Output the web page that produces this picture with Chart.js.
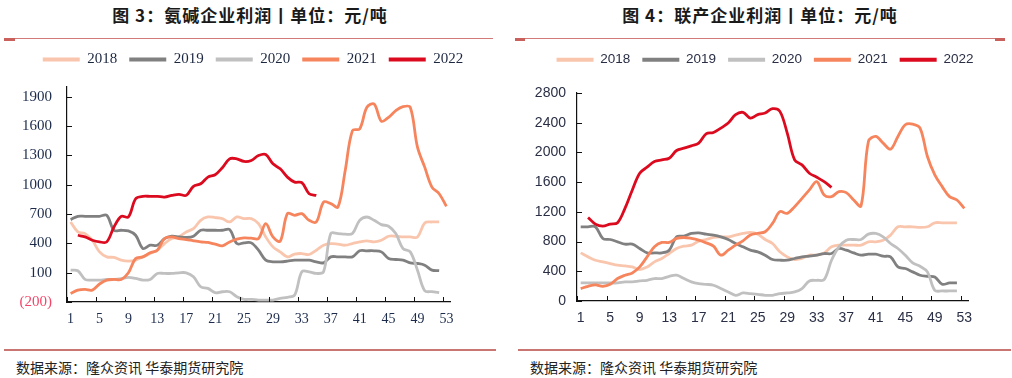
<!DOCTYPE html>
<html><head><meta charset="utf-8">
<script src="https://cdn.jsdelivr.net/npm/chart.js@4/dist/chart.umd.min.js"></script>
<style>
body{margin:0;width:1012px;height:378px;background:#fff;position:relative;overflow:hidden;}
.title{position:absolute;top:3px;height:24px;line-height:24px;font-family:"Noto Sans CJK SC";font-weight:bold;font-size:17px;color:#1a1a1a;text-align:center;white-space:nowrap;letter-spacing:1px;}
.rule{position:absolute;height:1px;background:#d27a77;}
.cap{position:absolute;height:3px;background:#c9605c;}
.brule{position:absolute;height:2px;background:#c97672;}
.src{position:absolute;top:357px;font-family:"Noto Sans CJK SC";font-size:14px;color:#222;white-space:nowrap;}
canvas{position:absolute;}
</style></head>
<body>
<div class="title" style="left:0;width:500px;">图 3：氨碱企业利润丨单位：元/吨</div>
<div class="title" style="left:510px;width:500px;">图 4：联产企业利润丨单位：元/吨</div>
<div class="rule" style="left:4px;width:489px;top:38px;"></div>
<div class="cap" style="left:4px;width:11px;top:38px;"></div>
<div class="rule" style="left:515px;width:490px;top:38px;"></div>
<div class="cap" style="left:515px;width:10px;top:38px;"></div>
<div class="cap" style="left:995px;width:10px;top:38px;"></div>
<div class="brule" style="left:4px;width:492px;top:349px;"></div>
<div class="brule" style="left:518px;width:493px;top:349px;"></div>
<div class="src" style="left:16px;">数据来源：隆众资讯 华泰期货研究院</div>
<div class="src" style="left:530px;">数据来源：隆众资讯 华泰期货研究院</div>
<canvas id="c1" width="506" height="302" style="left:0;top:40px;"></canvas>
<canvas id="c2" width="506" height="300" style="left:506px;top:41px;"></canvas>
<script>
const weeks = Array.from({length:53},(_,i)=>String(i+1));
const seriesNames = ['2018','2019','2020','2021','2022'];
const seriesColors = ['#f9c6ad','#808080','#c0c0c0','#f6845c','#db0a1e'];

// 图3 氨碱企业利润
const ammonia2018 = [619,517,500,432,313,262,256,228,218,228,262,296,330,398,449,466,517,551,636,670,664,653,619,670,653,653,602,466,364,313,262,290,296,286,330,381,398,392,381,398,415,426,415,432,473,473,466,466,466,609,619,619,null];
const ammonia2019 = [643,677,677,677,677,687,534,534,528,483,347,381,381,449,473,466,460,473,534,534,534,534,541,398,405,405,330,228,211,211,218,228,228,228,211,201,262,262,262,262,324,324,324,313,245,235,228,201,194,177,126,120,null];
const ammonia2020 = [126,120,31,24,24,31,31,38,52,41,24,31,92,92,92,99,99,58,-44,-61,-105,-95,-95,-146,-173,-173,-180,-180,-180,-163,-152,-129,109,109,92,109,500,500,494,500,636,670,636,592,575,500,347,313,126,-84,-95,-105,null];
const ammonia2021 = [-112,-78,-71,-78,-16,24,31,31,99,245,262,303,330,449,466,449,439,426,415,409,392,375,415,443,456,453,449,602,466,422,704,687,704,636,619,823,806,772,1146,1554,1571,1792,1826,1650,1690,1758,1799,1792,1384,1180,976,908,779];
const ammonia2022 = [null,483,466,432,415,415,568,677,670,857,881,881,881,874,891,902,891,983,1010,1078,1102,1174,1265,1265,1238,1248,1299,1310,1214,1163,1078,1027,1021,908,891];
const ammoniaYTicks = [-200,100,400,700,1000,1300,1600,1900];

// 图4 联产企业利润
const joint2018 = [648,594,549,527,504,482,473,459,423,459,527,572,639,707,738,752,806,828,855,864,864,887,909,923,900,828,774,662,594,558,572,617,617,648,729,752,752,752,752,797,797,819,887,999,999,999,990,999,1053,1053,1053,1053,null];
const joint2019 = [999,999,999,842,828,797,765,765,707,648,648,648,684,864,873,909,918,900,887,864,828,774,729,684,662,617,558,549,549,572,594,603,617,639,639,707,684,648,617,630,630,603,594,459,437,392,347,333,324,225,243,243,null];
const joint2020 = [243,243,243,243,243,243,257,257,270,279,302,302,333,347,302,257,234,225,212,167,122,77,108,99,90,77,77,99,108,122,167,270,279,288,549,729,819,828,828,900,909,864,774,707,617,513,468,392,144,135,135,135,null];
const joint2021 = [167,198,216,198,225,302,347,378,459,594,729,788,788,842,855,842,819,783,738,617,684,752,810,887,912,932,1044,1202,1180,1270,1382,1495,1607,1427,1405,1472,1459,1360,1279,2147,2215,2125,2044,2215,2373,2382,2328,1945,1697,1540,1405,1360,1247];
const joint2022 = [null,1125,1035,1008,1035,1053,1247,1495,1720,1801,1877,1900,1922,2026,2057,2089,2125,2251,2269,2328,2395,2508,2539,2463,2508,2530,2589,2553,2260,1900,1832,1720,1666,1607,1531];
const jointYTicks = [0,400,800,1200,1600,2000,2400,2800];

function makeDatasets(arrs){
  return arrs.map((d,i)=>({
    label: seriesNames[i], data: d,
    borderColor: seriesColors[i], backgroundColor: seriesColors[i],
    borderWidth: 2.8, pointRadius: 0, tension: 0.35, order: 4-i, fill:false
  }));
}

function legendHeightPlugin(h){
  return { id:'legendH', afterInit(chart){
    const lg = chart.legend; const f = lg.fit;
    lg.fit = function(){ f.call(this); this.height = h; };
  }};
}
const tickMarks = {
  id:'tickMarks',
  afterDraw(chart){
    const {ctx, chartArea:a, scales:{x,y}} = chart;
    ctx.save(); ctx.strokeStyle='#111'; ctx.lineWidth=1;
    ctx.beginPath();
    y.ticks.forEach(t=>{const py=Math.round(y.getPixelForValue(t.value))+0.5; ctx.moveTo(a.left,py); ctx.lineTo(a.left+5,py);});
    const half=(x.getPixelForValue(1)-x.getPixelForValue(0))/2;
    for(let i=0;i<x.ticks.length;i+=4){const px=Math.round(x.getPixelForValue(i)-half)+0.5; ctx.moveTo(px,a.bottom); ctx.lineTo(px,a.bottom-5);}
    ctx.stroke(); ctx.restore();
  }
};

function build(id, arrs, cfg){
  new Chart(document.getElementById(id), {
    type:'line',
    data:{ labels: weeks, datasets: makeDatasets(arrs) },
    options:{
      responsive:false, animation:false, devicePixelRatio:1,
      layout:{ padding:{ left:cfg.padLeft, right:0, top:0, bottom:0 } },
      plugins:{
        tooltip:{enabled:false},
        legend:{ position:'top', align:'center',
          labels:{ boxWidth:37, boxHeight:4, padding:12, color:cfg.legendColor,
            font:{ family:cfg.legendFamily, size:cfg.legendSize },
            sort:(a,b)=>a.datasetIndex-b.datasetIndex,
            generateLabels(chart){ return Chart.defaults.plugins.legend.labels.generateLabels(chart).map(l=>({...l, lineWidth:0})); }
          } }
      },
      scales:{
        x:{ type:'category', offset:true,
          grid:{ display:false, drawTicks:false, offset:true },
          border:{ display:true, color:'#111', width:1.2 },
          ticks:{ autoSkip:false, maxRotation:0, padding:9, color:cfg.tickColor,
            font:{ family:cfg.xFamily, size:cfg.xSize },
            callback:(v,i)=> i%4===0 ? weeks[i] : '' },
          afterFit(s){ s.height = 40; }
        },
        y:{ min:cfg.min, max:cfg.max,
          grid:{ display:false, drawTicks:false },
          border:{ display:true, color:'#111', width:1.2 },
          afterBuildTicks(s){ s.ticks = cfg.yTicks.map(v=>({value:v})); },
          ticks:{ padding:cfg.yPad, color:(c)=> c.tick && c.tick.value<0 ? '#f2476a' : cfg.tickColor,
            font:{ family:cfg.yFamily, size:cfg.ySize },
            callback:(v)=> v<0 ? '('+(-v)+')' : String(v) },
          afterFit(s){ s.width = cfg.yWidth; }
        },
        yR:{ position:'right', min:cfg.min, max:cfg.max,
          grid:{ display:false, drawTicks:false }, border:{ display:false },
          ticks:{ display:false },
          afterFit(s){ s.width = cfg.padRight; }
        }
      }
    },
    plugins:[legendHeightPlugin(cfg.legendH), tickMarks]
  });
}

build('c1',[ammonia2018,ammonia2019,ammonia2020,ammonia2021,ammonia2022],{
  padLeft:0, padRight:56, legendColor:'#1c2740', legendFamily:'"Liberation Serif"', legendSize:15,
  tickColor:'#1c2b4b', xFamily:'"Liberation Serif"', xSize:14, yFamily:'"Liberation Serif"', ySize:15,
  min:-200, max:2000, yTicks:ammoniaYTicks, yPad:15, yWidth:67, legendH:47
});
build('c2',[joint2018,joint2019,joint2020,joint2021,joint2022],{
  padLeft:12, padRight:44, legendColor:'#2a2f45', legendFamily:'"Liberation Sans"', legendSize:13.5,
  tickColor:'#2a2f45', xFamily:'"Liberation Sans"', xSize:14, yFamily:'"Liberation Sans"', ySize:14,
  min:0, max:2800, yTicks:jointYTicks, yPad:11, yWidth:59, legendH:52
});
</script>
</body></html>
